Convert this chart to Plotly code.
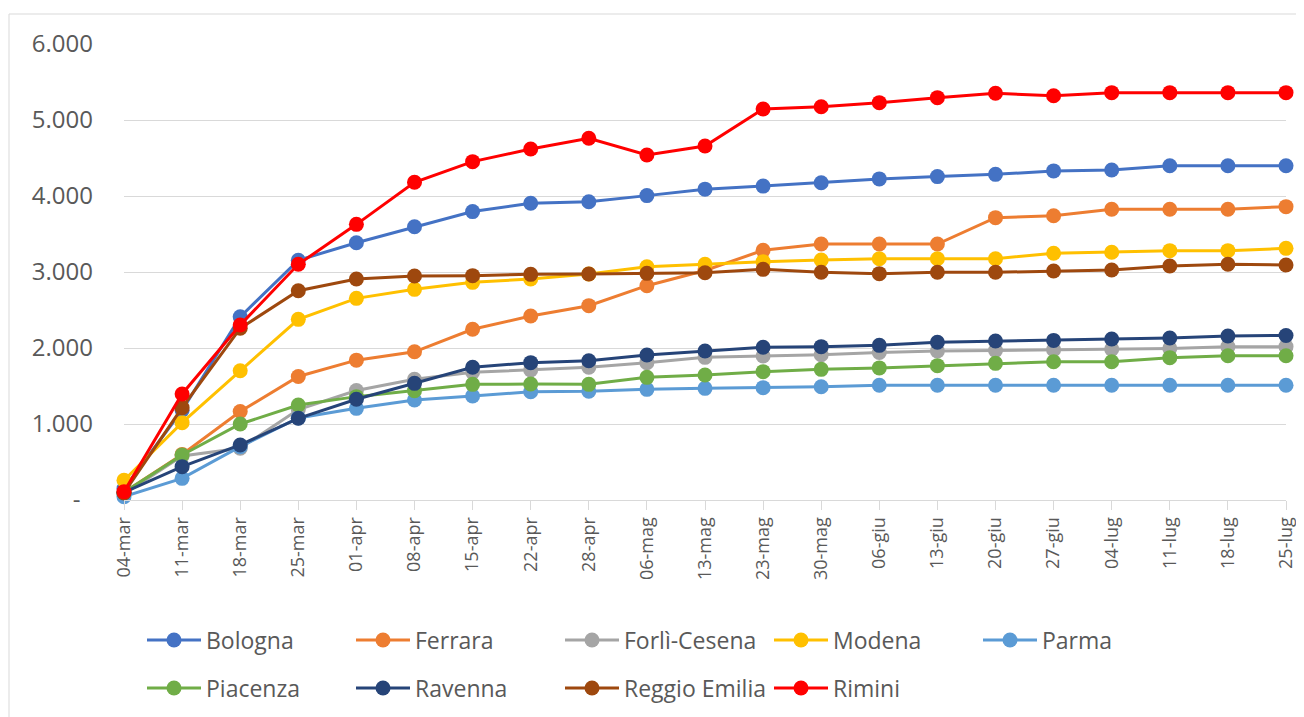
import plotly.graph_objects as go

categories = ["04-mar", "11-mar", "18-mar", "25-mar", "01-apr", "08-apr", "15-apr",
              "22-apr", "28-apr", "06-mag", "13-mag", "23-mag", "30-mag", "06-giu",
              "13-giu", "20-giu", "27-giu", "04-lug", "11-lug", "18-lug", "25-lug"]

bologna = [150, 1180, 2410, 3155, 3385, 3595, 3795, 3905, 3925, 4005, 4090, 4130, 4175,
           4225, 4255, 4285, 4330, 4342, 4399, 4399, 4399]
ferrara = [100, 600, 1165, 1625, 1840, 1950, 2246, 2421, 2557, 2820, 3020, 3285, 3368,
           3368, 3368, 3715, 3741, 3825, 3825, 3825, 3860]
forli = [80, 580, 680, 1190, 1440, 1588, 1680, 1711, 1746, 1807, 1877, 1895, 1912,
         1940, 1960, 1968, 1976, 1985, 1995, 2018, 2018]
modena = [260, 1018, 1700, 2377, 2653, 2772, 2864, 2908, 2974, 3070, 3101, 3136, 3158,
          3175, 3175, 3175, 3246, 3259, 3281, 3281, 3311]
parma = [44, 285, 702, 1080, 1206, 1316, 1368, 1425, 1430, 1456, 1469, 1478, 1491,
         1509, 1509, 1509, 1509, 1509, 1509, 1509, 1509]
piacenza = [100, 592, 1000, 1250, 1360, 1439, 1522, 1526, 1522, 1614, 1645, 1689, 1719,
            1738, 1768, 1798, 1820, 1820, 1873, 1899, 1899]
ravenna = [100, 439, 724, 1075, 1325, 1535, 1746, 1807, 1833, 1908, 1961, 2009, 2018,
           2035, 2075, 2092, 2100, 2118, 2132, 2158, 2165]
reggio = [92, 1215, 2259, 2754, 2908, 2947, 2952, 2969, 2974, 2982, 2990, 3035, 2996,
          2978, 2996, 2996, 3013, 3026, 3079, 3101, 3092]
rimini = [110, 1395, 2303, 3101, 3627, 4180, 4452, 4618, 4759, 4539, 4658, 5145, 5175,
          5228, 5294, 5351, 5320, 5360, 5360, 5360, 5360]

series_names = ["Bologna", "Ferrara", "Forlì-Cesena", "Modena", "Parma",
                "Piacenza", "Ravenna", "Reggio Emilia", "Rimini"]
series_values = [bologna, ferrara, forli, modena, parma, piacenza, ravenna, reggio, rimini]
series_colors = ["#4472C4", "#ED7D31", "#A5A5A5", "#FFC000", "#5B9BD5",
                 "#70AD47", "#264478", "#9E480E", "#FF0000"]

y_tickvals = [0, 1000, 2000, 3000, 4000, 5000, 6000]
y_ticktext = ["-\u00a0\u00a0", "1.000", "2.000", "3.000", "4.000", "5.000", "6.000"]

# page body has an 8px margin: figure origin sits at screen (8, 8)
OFF = 8
W, H = 1304 - OFF, 717 - OFF
L, R, T, B = 124 - OFF, 1304 - 1286, 44 - OFF, 717 - 500
pw, ph = W - L - R, H - T - B


def px_x(p):  # screen px -> paper
    return (p - OFF - L) / pw


def px_y(p):
    return (H - B - (p - OFF)) / ph


fig = go.Figure()
for i, (name, vals, col) in enumerate(zip(series_names, series_values, series_colors)):
    fig.add_trace(go.Scatter(
        x=categories, y=vals, name=name, mode="lines+markers",
        line=dict(color=col, width=3),
        marker=dict(color=col, size=15),
        cliponaxis=False,
        legend="legend" if i < 5 else "legend2",
    ))

font_color = "#595959"
legend_common = dict(
    orientation="h", entrywidth=140, entrywidthmode="pixels", itemwidth=54,
    font=dict(family="Open Sans", size=23, color=font_color),
    bgcolor="rgba(0,0,0,0)", xanchor="left", yanchor="middle",
    traceorder="normal",
)

fig.update_layout(
    width=W, height=H,
    margin=dict(l=L, r=R, t=T, b=B, autoexpand=False),
    paper_bgcolor="white", plot_bgcolor="white",
    font=dict(family="Open Sans", color=font_color),
    showlegend=True,
    legend=dict(x=px_x(142), y=px_y(640), **legend_common),
    legend2=dict(x=px_x(142), y=px_y(688), **legend_common),
    xaxis=dict(
        type="category", range=[0, len(categories) - 1],
        showgrid=False, showline=True, linecolor="#D9D9D9", linewidth=1,
        ticks="outside", ticklen=9, tickcolor="#D9D9D9", tickwidth=1,
        tickangle=-90, tickfont=dict(family="Open Sans", size=18, color=font_color),
        zeroline=False,
    ),
    yaxis=dict(
        range=[0, 6000], tickvals=y_tickvals, ticktext=y_ticktext,
        showgrid=True, gridcolor="#D9D9D9", gridwidth=1,
        showline=False, zeroline=False, ticks="",
        ticklabelstandoff=30,
        tickfont=dict(family="Open Sans", size=24, color=font_color),
    ),
    shapes=[dict(
        type="rect", xref="paper", yref="paper",
        x0=px_x(9), x1=px_x(1310), y0=px_y(725), y1=px_y(14),
        line=dict(color="#D9D9D9", width=1), fillcolor="rgba(0,0,0,0)", layer="below",
    )],
)

fig.write_html("out.html")
